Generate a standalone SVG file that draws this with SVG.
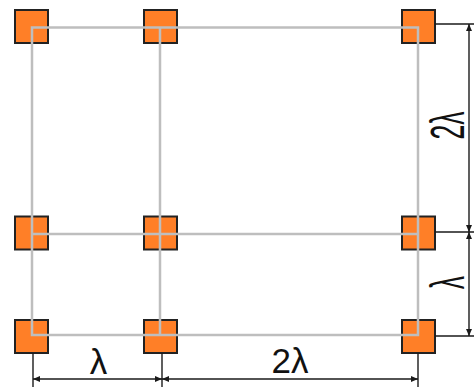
<svg xmlns="http://www.w3.org/2000/svg" width="474" height="387" viewBox="0 0 474 387">
  <style>
    .sq { fill: #FF7F27; stroke: #222222; stroke-width: 2; }
    .grid { stroke: #BEBEBE; stroke-width: 2.5; fill: none; }
    .ext { stroke: #1a1a1a; stroke-width: 1.4; fill: none; }
    .dim { stroke: #1a1a1a; stroke-width: 1.4; fill: none; marker-start: url(#arr); marker-end: url(#arr); }
    .lbl { font-family: "Liberation Sans", Arial, sans-serif; font-size: 35px; fill: #111111; text-anchor: middle; }
  </style>
  <defs>
    <marker id="arr" markerUnits="userSpaceOnUse" markerWidth="8" markerHeight="8" refX="7" refY="3.5" orient="auto-start-reverse">
      <path d="M0,0.5 L7,3.5 L0,6.5 Z" fill="#1a1a1a"/>
    </marker>
  </defs>
  <rect width="474" height="387" fill="#ffffff"/>

  <g id="n-r1c1"><rect class="sq" x="15" y="10" width="33" height="33"/></g>
  <g id="n-r1c2"><rect class="sq" x="144" y="10" width="33" height="33"/></g>
  <g id="n-r1c3"><rect class="sq" x="402" y="10" width="33" height="33"/></g>
  <g id="n-r2c1"><rect class="sq" x="15" y="216.5" width="33" height="33"/></g>
  <g id="n-r2c2"><rect class="sq" x="144" y="216.5" width="33" height="33"/></g>
  <g id="n-r2c3"><rect class="sq" x="402" y="216.5" width="33" height="33"/></g>
  <g id="n-r3c1"><rect class="sq" x="15" y="320" width="33" height="33"/></g>
  <g id="n-r3c2"><rect class="sq" x="144" y="320" width="33" height="33"/></g>
  <g id="n-r3c3"><rect class="sq" x="402" y="320" width="33" height="33"/></g>

  <g id="connectors">
    <rect class="grid" x="32" y="27.5" width="386" height="307.5"/>
    <line class="grid" x1="32" y1="234" x2="418" y2="234"/>
    <line class="grid" x1="160" y1="27.5" x2="160" y2="335"/>
  </g>

  <g id="dimensions">
    <line class="ext" x1="33" y1="353" x2="33" y2="387"/>
    <line class="ext" x1="162" y1="353" x2="162" y2="387"/>
    <line class="ext" x1="418" y1="353" x2="418" y2="387"/>
    <line class="dim" x1="33" y1="379" x2="162" y2="379"/>
    <line class="dim" x1="162" y1="379" x2="418" y2="379"/>
    <line class="ext" x1="435" y1="24" x2="474" y2="24"/>
    <line class="ext" x1="435" y1="232" x2="474" y2="232"/>
    <line class="ext" x1="435" y1="336" x2="474" y2="336"/>
    <line class="dim" x1="469" y1="24" x2="469" y2="232"/>
    <line class="dim" x1="469" y1="232" x2="469" y2="336"/>
  </g>

  <g id="labels">
    <text class="lbl" x="98.5" y="374">λ</text>
    <text class="lbl" x="290" y="373">2λ</text>
    <text class="lbl" transform="translate(464,125.5) rotate(-90) scale(0.76,1.4)">2λ</text>
    <text class="lbl" transform="translate(464,282.5) rotate(-90) scale(0.76,1.4)">λ</text>
  </g>
</svg>
